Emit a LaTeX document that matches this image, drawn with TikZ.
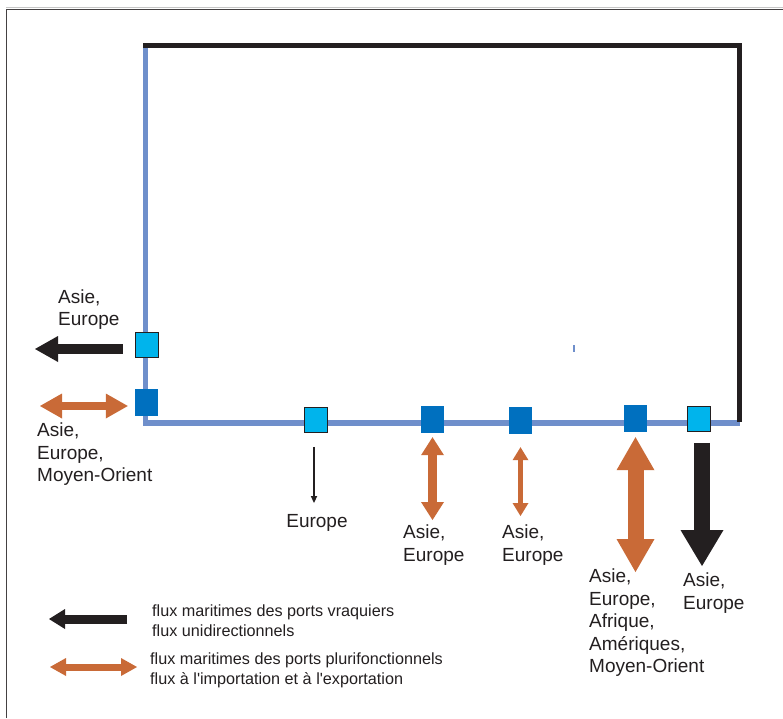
\documentclass[tikz,border=0pt]{standalone}
\usepackage{fontspec}
\setmainfont{Liberation Sans}
\usetikzlibrary{arrows.meta}
\definecolor{coast}{HTML}{6F8FCB}
\definecolor{inland}{HTML}{231F20}
\definecolor{pluricol}{HTML}{C96A37}
\definecolor{lightport}{HTML}{00B4EC}
\definecolor{darkport}{HTML}{0070BF}

\begin{document}
\begin{tikzpicture}[x=1pt,y=-1pt,line join=miter,
    vracport/.style={draw=inland, line width=0.8pt, fill=lightport, minimum width=23pt, minimum height=25pt, inner sep=0pt},
    pluriport/.style={fill=darkport, minimum width=23pt, minimum height=27pt, inner sep=0pt},
    vrac/.style n args={3}{draw=inland, line width=#1, -{Triangle[width=#2,length=#3,line width=0pt]}},
    pluri/.style n args={3}{draw=pluricol, line width=#1, {Triangle[width=#2,length=#3,line width=0pt]}-{Triangle[width=#2,length=#3,line width=0pt]}},
    dest/.style={anchor=north west, inner sep=0pt, align=left, text=inland, font=\fontsize{19}{22.5}\selectfont},
    legend/.style={anchor=north west, inner sep=0pt, align=left, text=inland, font=\fontsize{16.2}{20}\selectfont}]
    \fill[white] (0,0) rectangle (783,718);
    \useasboundingbox (0,0) rectangle (783,718);

    % frame
    \draw[gray!45, line width=1pt] (6,7.5) -- (783,7.5);
    \draw[inland!85, line width=1.3pt] (6.5,718) -- (6.5,9.5) -- (783,9.5);

    % coast and land border
    \draw[coast, line width=5.5pt] (145.5,43) -- (145.5,423) -- (740,423);
    \draw[inland, line width=5.5pt] (143,45.5) -- (739.7,45.5) -- (739.7,422);
    \draw[coast, line width=1.5pt] (574,345) -- (574,352);

    % ports
    \node[vracport] (w1) at (146.5,345) {};
    \node[pluriport] (w2) at (146.5,402.5) {};
    \node[vracport] (s1) at (316,420) {};
    \node[pluriport] (s2) at (432.5,419.5) {};
    \node[pluriport] (s3) at (520.5,420.5) {};
    \node[pluriport] (s4) at (635.5,418.5) {};
    \node[vracport] (s5) at (698.5,419) {};

    % flows
    \coordinate (w1d) at (35,349);
    \coordinate (w2d) at (40,406);
    \coordinate (s1d) at (314,503);
    \coordinate (s2d) at (432.5,520);
    \coordinate (s3d) at (520.5,516);
    \coordinate (s4d) at (635.5,572);
    \coordinate (s5d) at (702,566);
    \draw[vrac={10pt}{26pt}{23pt}] ([shift={(-12,4)}]w1.west) -- (w1d);
    \draw[pluri={8pt}{25pt}{22pt}] ([shift={(-7,3.5)}]w2.west) -- (w2d);
    \draw[vrac={1.3pt}{6.5pt}{7pt}] ([shift={(-2,14)}]s1.south) -- (s1d);
    \draw[pluri={9pt}{23pt}{18pt}] ([shift={(0,4)}]s2.south) -- (s2d);
    \draw[pluri={5.5pt}{16pt}{13pt}] ([shift={(0,13)}]s3.south) -- (s3d);
    \draw[pluri={16pt}{38pt}{33pt}] ([shift={(0,5)}]s4.south) -- (s4d);
    \draw[vrac={16pt}{43pt}{36pt}] ([shift={(3.5,11)}]s5.south) -- (s5d);

    % destinations
    \node[dest] (w1t) at (58,289.5) {Asie,\\Europe};
    \node[dest] (w2t) at (37,423) {Asie,\\Europe,\\Moyen-Orient};
    \node[dest, anchor=north] (s1t) at (317,514) {Europe};
    \node[dest] (s2t) at (403,525) {Asie,\\Europe};
    \node[dest] (s3t) at (502,525) {Asie,\\Europe};
    \node[dest] (s4t) at (589,569) {Asie,\\Europe,\\Afrique,\\Amériques,\\Moyen-Orient};
    \node[dest] (s5t) at (683,573) {Asie,\\Europe};

    % legend
    \coordinate (k1a) at (127,619);
    \coordinate (k1b) at (49,619);
    \coordinate (k2a) at (50,667);
    \coordinate (k2b) at (137,667);
    \draw[vrac={9pt}{20pt}{16pt}] (k1a) -- (k1b);
    \draw[pluri={7pt}{18pt}{16pt}] (k2a) -- (k2b);
    \node[legend] (k1t) at (152,605) {flux maritimes des ports vraquiers\\flux unidirectionnels};
    \node[legend] (k2t) at (150,653) {flux maritimes des ports plurifonctionnels\\flux à l\textquotesingle importation et à l\textquotesingle exportation};
\end{tikzpicture}
\end{document}
